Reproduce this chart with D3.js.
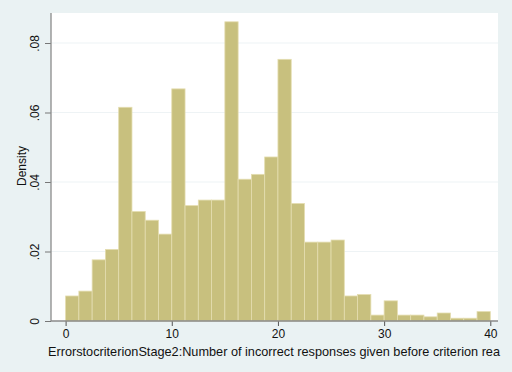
<!DOCTYPE html>
<html>
<head>
<meta charset="utf-8">
<script src="https://cdnjs.cloudflare.com/ajax/libs/d3/7.8.5/d3.min.js"></script>
<style>
  body { margin: 0; background: #eaf2f3; }
  svg { display: block; }
  text { font-family: "Liberation Sans", Arial, sans-serif; fill: #111; }
</style>
</head>
<body>
<div id="chart"></div>
<script>
// histogram bins: width 1.25, from 0 to 40
var binWidth = 1.25;
var binStarts = d3.range(0, 40, binWidth);
var densities = [
  0.0072, 0.0086, 0.0176, 0.0206, 0.0615, 0.0315, 0.0290, 0.0250,
  0.0668, 0.0332, 0.0348, 0.0348, 0.0861, 0.0408, 0.0422, 0.0472,
  0.0753, 0.0338, 0.0227, 0.0227, 0.0233, 0.0072, 0.0076, 0.0017,
  0.0058, 0.0017, 0.0017, 0.0012, 0.0023, 0.0008, 0.0008, 0.0027
];
var xTicks = [0, 10, 20, 30, 40];
var yTicks = [0, 0.02, 0.04, 0.06, 0.08];
var xTitle = 'ErrorstocriterionStage2:Number of incorrect responses given before criterion rea';
var yTitle = 'Density';

var width = 512, height = 372;
var plot = {left: 51, right: 498, top: 13, bottom: 321};

var svg = d3.select('#chart').append('svg')
    .attr('width', width)
    .attr('height', height);

svg.append('rect')
    .attr('width', width).attr('height', height)
    .attr('fill', '#eaf2f3');

// white plot region
svg.append('rect')
    .attr('x', plot.left).attr('y', plot.top)
    .attr('width', plot.right - plot.left)
    .attr('height', plot.bottom - plot.top)
    .attr('fill', '#ffffff');

var x = d3.scaleLinear().domain([0, 40]).range([65.6, 490.3]);
var y = d3.scaleLinear().domain([0, 0.08]).range([plot.bottom, 43]);

// gridlines
svg.append('g').selectAll('line')
    .data(yTicks.slice(1))
  .enter().append('line')
    .attr('x1', plot.left).attr('x2', plot.right)
    .attr('y1', function(d){ return y(d); })
    .attr('y2', function(d){ return y(d); })
    .attr('stroke', '#eef3f5')
    .attr('stroke-width', 1.2);

var bins = binStarts.map(function(s, i){
  return {x0: s, x1: s + binWidth, v: densities[i]};
});

svg.append('g').selectAll('rect')
    .data(bins)
  .enter().append('rect')
    .attr('x', function(d){ return x(d.x0); })
    .attr('width', function(d){ return x(d.x1) - x(d.x0); })
    .attr('y', function(d){ return y(d.v); })
    .attr('height', function(d){ return y(0) - y(d.v); })
    .attr('fill', '#c8c07e')
    .attr('stroke', '#e4ddb0')
    .attr('stroke-width', 0.8);

// y axis
var yAxis = d3.axisLeft(y)
    .tickValues(yTicks)
    .tickSize(6)
    .tickPadding(3)
    .tickFormat(function(d){ return d === 0 ? '0' : d3.format('.2f')(d).replace(/^0/, ''); });

var gy = svg.append('g')
    .attr('transform', 'translate(' + plot.left + ',0)')
    .call(yAxis);
gy.select('.domain').remove();
gy.append('line')
    .attr('x1', 0).attr('x2', 0)
    .attr('y1', plot.top).attr('y2', plot.bottom)
    .attr('stroke', '#8a8a8a').attr('stroke-width', 1.3);
gy.selectAll('.tick line').attr('stroke', '#777');
gy.selectAll('.tick text')
    .attr('x', 0).attr('dy', 0)
    .attr('transform', 'translate(-12,0) rotate(-90)')
    .attr('text-anchor', 'middle')
    .style('font-size', '12px')
    .style('font-family', '"Liberation Sans", Arial, sans-serif')
    .attr('fill', '#111');

// x axis
var xAxis = d3.axisBottom(x)
    .tickValues(xTicks)
    .tickSize(5)
    .tickPadding(3);

var gx = svg.append('g')
    .attr('transform', 'translate(0,' + plot.bottom + ')')
    .call(xAxis);
gx.select('.domain').remove();
gx.append('line')
    .attr('x1', plot.left).attr('x2', plot.right)
    .attr('y1', 0).attr('y2', 0)
    .attr('stroke', '#8a8a8a').attr('stroke-width', 1.3);
gx.selectAll('.tick line').attr('stroke', '#555');
gx.selectAll('.tick text')
    .style('font-size', '12px')
    .style('font-family', '"Liberation Sans", Arial, sans-serif')
    .attr('fill', '#111');

// titles
svg.append('text')
    .attr('x', 48).attr('y', 356)
    .attr('textLength', 452)
    .attr('lengthAdjust', 'spacingAndGlyphs')
    .style('font-size', '12.6px')
    .text(xTitle);

svg.append('text')
    .attr('transform', 'translate(26,166) rotate(-90)')
    .attr('text-anchor', 'middle')
    .style('font-size', '12px')
    .text(yTitle);
</script>
</body>
</html>
